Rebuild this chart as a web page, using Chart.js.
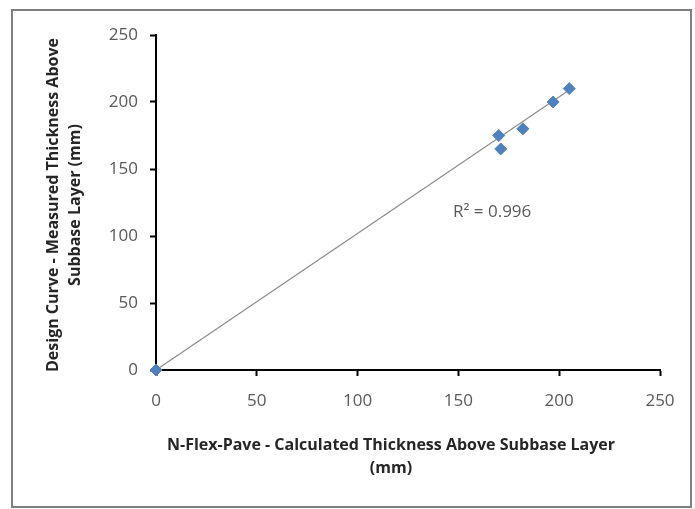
<!DOCTYPE html>
<html>
<head>
<meta charset="utf-8">
<script src="https://cdn.jsdelivr.net/npm/chart.js@4/dist/chart.umd.min.js"></script>
<style>
  body { margin: 0; background: #fff; }
  #wrap { position: relative; width: 695px; height: 509px; }
  #frame { position: absolute; left: 11px; top: 9px; width: 677px; height: 495px; border: 2px solid #7f7f7f; box-sizing: content-box; }
  canvas { position: absolute; left: 0; top: 0; }
</style>
</head>
<body>
<div id="wrap">
  <div id="frame"></div>
  <canvas id="chart" width="695" height="509"></canvas>
</div>
<script>
// --- DATA ---
const calcThickness = [0, 170, 171, 182, 197, 205];
const designThickness = [0, 175, 165, 180, 200, 210];
const trendX = [0, 205];
const trendY = [0, 209];
const axisTicks = [0, 50, 100, 150, 200, 250];
const xTitle = ['N-Flex-Pave - Calculated Thickness Above Subbase Layer', '(mm)'];
const yTitle = ['Design Curve - Measured Thickness Above', 'Subbase Layer (mm)'];
const r2Label = 'R\u00B2 = 0.996';

const tickFont = { family: 'Open Sans', size: 17 };
const tickColor = '#595959';

// titles + R² text, drawn by hand so they sit where Excel put them
const labelsPlugin = {
    id: 'labels',
    afterDraw(chart) {
        const ctx = chart.ctx;
        ctx.save();
        ctx.fillStyle = '#262626';
        ctx.font = 'bold 16px "Open Sans"';
        ctx.textAlign = 'center';
        ctx.textBaseline = 'middle';
        ctx.fillText(xTitle[0], 391, 445);
        ctx.fillText(xTitle[1], 391, 468);

        ctx.save();
        ctx.translate(53, 205);
        ctx.rotate(-Math.PI / 2);
        ctx.fillText(yTitle[0], 0, 0);
        ctx.fillText(yTitle[1], 0, 22);
        ctx.restore();

        ctx.fillStyle = tickColor;
        ctx.font = '17px "Open Sans"';
        ctx.textAlign = 'left';
        ctx.fillText(r2Label, 453, 212);
        ctx.restore();
    }
};

const axisCommon = {
    type: 'linear',
    min: 0, max: 250,
    afterBuildTicks: (scale) => { scale.ticks = axisTicks.map(v => ({ value: v })); },
    grid: { drawOnChartArea: false, drawTicks: true, tickLength: 6, color: '#000', tickWidth: 2 },
    border: { color: '#000', width: 2 },
    ticks: { color: tickColor, font: tickFont }
};

new Chart(document.getElementById('chart'), {
    type: 'scatter',
    data: {
        datasets: [
            {
                label: 'Thickness',
                data: calcThickness.map((x, i) => ({ x: x, y: designThickness[i] })),
                pointStyle: 'rectRot',
                pointRadius: 6,
                backgroundColor: '#4f81bd',
                borderColor: '#4f81bd',
                clip: false,
                order: 1
            },
            {
                label: 'Linear trend',
                type: 'line',
                data: trendX.map((x, i) => ({ x: x, y: trendY[i] })),
                borderColor: '#8c8c8c',
                borderWidth: 1.2,
                pointRadius: 0,
                fill: false,
                order: 2
            }
        ]
    },
    options: {
        responsive: false,
        animation: false,
        layout: { padding: { left: 0, right: 35, top: 35, bottom: 0 } },
        plugins: { legend: { display: false }, tooltip: { enabled: false } },
        scales: {
            x: Object.assign({}, axisCommon, {
                position: 'bottom',
                afterFit: (scale) => { scale.height = 139; },
                ticks: { color: tickColor, font: tickFont, padding: 15, maxRotation: 0 }
            }),
            y: Object.assign({}, axisCommon, {
                position: 'left',
                afterFit: (scale) => { scale.width = 156; },
                ticks: { color: tickColor, font: tickFont, padding: 12 }
            })
        }
    },
    plugins: [labelsPlugin]
});
</script>
</body>
</html>
